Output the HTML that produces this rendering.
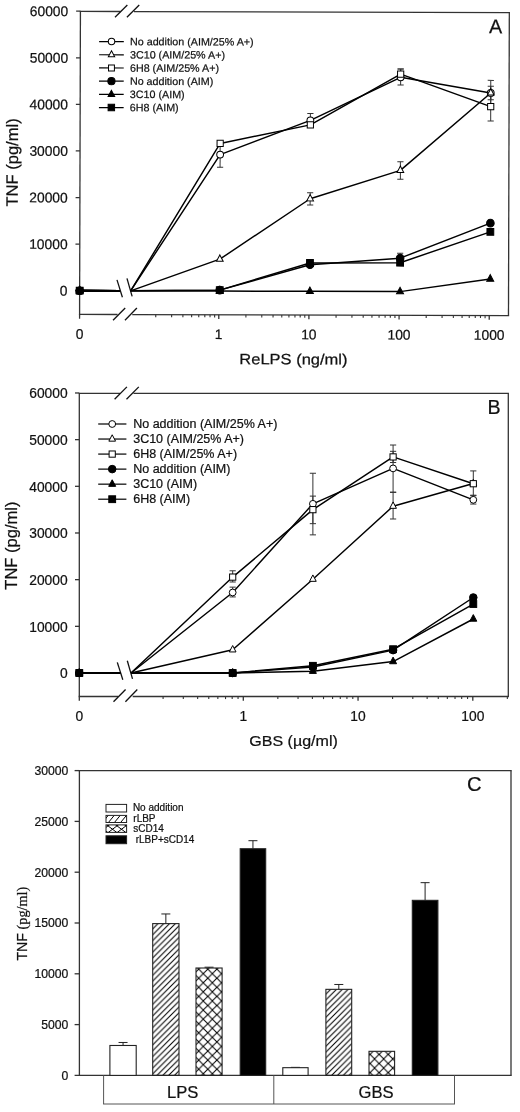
<!DOCTYPE html>
<html><head><meta charset="utf-8"><style>
html,body{margin:0;padding:0;background:#fff;}
body{width:520px;height:1112px;overflow:hidden;}
svg{display:block;filter:grayscale(1);}
text{fill:#111;stroke:#111;stroke-width:0.22px;}
</style></head><body>
<svg width="520" height="1112" viewBox="0 0 520 1112">
<defs><pattern id="hatchA" patternUnits="userSpaceOnUse" x="2.8" y="0" width="5.8" height="5.8"><path d="M-1,1 L1,-1 M0,5.8 L5.8,0 M4.8,6.8 L6.8,4.8" stroke="#000" stroke-width="1.05"/></pattern><pattern id="hatchB" patternUnits="userSpaceOnUse" x="3.4" y="0" width="5.8" height="5.8"><path d="M-1,1 L1,-1 M0,5.8 L5.8,0 M4.8,6.8 L6.8,4.8" stroke="#000" stroke-width="1.05"/></pattern><pattern id="crossA" patternUnits="userSpaceOnUse" x="198.7" y="969.1" width="9.1" height="9.1"><path d="M0,0 L9.1,9.1 M9.1,0 L0,9.1" stroke="#000" stroke-width="1.05"/></pattern><pattern id="crossB" patternUnits="userSpaceOnUse" x="370.0" y="1054.4" width="9.1" height="9.1"><path d="M0,0 L9.1,9.1 M9.1,0 L0,9.1" stroke="#000" stroke-width="1.05"/></pattern></defs>
<rect x="0" y="0" width="520" height="1112" fill="#fff"/>
<g transform="rotate(0.16 294.45 163.5)">
<line x1="79.35" y1="12" x2="120" y2="12" stroke="#333" stroke-width="1.3"/>
<line x1="133.5" y1="12" x2="509.55" y2="12" stroke="#333" stroke-width="1.3"/>
<line x1="80" y1="12" x2="80" y2="315" stroke="#333" stroke-width="1.3"/>
<line x1="508.9" y1="12" x2="508.9" y2="315" stroke="#333" stroke-width="1.3"/>
<line x1="79.35" y1="315" x2="118" y2="315" stroke="#333" stroke-width="1.3"/>
<line x1="132.7" y1="315" x2="509.55" y2="315" stroke="#333" stroke-width="1.3"/>
<line x1="114.6" y1="17.7" x2="126.9" y2="5.4" stroke="#111" stroke-width="1.3"/>
<line x1="126.5" y1="17.7" x2="138.8" y2="5.4" stroke="#111" stroke-width="1.3"/>
<line x1="113.5" y1="320.8" x2="125.6" y2="308.5" stroke="#111" stroke-width="1.3"/>
<line x1="125.4" y1="320.8" x2="137.3" y2="308.5" stroke="#111" stroke-width="1.3"/>
<line x1="75.7" y1="291.3" x2="80" y2="291.3" stroke="#333" stroke-width="1.3"/>
<text x="67.8" y="296.2" font-size="13.8" text-anchor="end" font-family='"Liberation Sans", sans-serif' >0</text>
<line x1="75.7" y1="244.72" x2="80" y2="244.72" stroke="#333" stroke-width="1.3"/>
<text x="67.8" y="249.62" font-size="13.8" text-anchor="end" font-family='"Liberation Sans", sans-serif' >10000</text>
<line x1="75.7" y1="198.14" x2="80" y2="198.14" stroke="#333" stroke-width="1.3"/>
<text x="67.8" y="203.04" font-size="13.8" text-anchor="end" font-family='"Liberation Sans", sans-serif' >20000</text>
<line x1="75.7" y1="151.56" x2="80" y2="151.56" stroke="#333" stroke-width="1.3"/>
<text x="67.8" y="156.46" font-size="13.8" text-anchor="end" font-family='"Liberation Sans", sans-serif' >30000</text>
<line x1="75.7" y1="104.98" x2="80" y2="104.98" stroke="#333" stroke-width="1.3"/>
<text x="67.8" y="109.88" font-size="13.8" text-anchor="end" font-family='"Liberation Sans", sans-serif' >40000</text>
<line x1="75.7" y1="58.4" x2="80" y2="58.4" stroke="#333" stroke-width="1.3"/>
<text x="67.8" y="63.3" font-size="13.8" text-anchor="end" font-family='"Liberation Sans", sans-serif' >50000</text>
<line x1="75.7" y1="11.82" x2="80" y2="11.82" stroke="#333" stroke-width="1.3"/>
<text x="67.8" y="16.72" font-size="13.8" text-anchor="end" font-family='"Liberation Sans", sans-serif' >60000</text>
<line x1="80" y1="315" x2="80" y2="319.3" stroke="#333" stroke-width="1.3"/>
<text x="80" y="339.3" font-size="13.8" text-anchor="middle" font-family='"Liberation Sans", sans-serif' >0</text>
<line x1="156.19" y1="315" x2="156.19" y2="317.6" stroke="#333" stroke-width="1.1"/>
<line x1="172.06" y1="315" x2="172.06" y2="317.6" stroke="#333" stroke-width="1.1"/>
<line x1="183.33" y1="315" x2="183.33" y2="317.6" stroke="#333" stroke-width="1.1"/>
<line x1="192.06" y1="315" x2="192.06" y2="317.6" stroke="#333" stroke-width="1.1"/>
<line x1="199.2" y1="315" x2="199.2" y2="317.6" stroke="#333" stroke-width="1.1"/>
<line x1="205.24" y1="315" x2="205.24" y2="317.6" stroke="#333" stroke-width="1.1"/>
<line x1="210.46" y1="315" x2="210.46" y2="317.6" stroke="#333" stroke-width="1.1"/>
<line x1="215.07" y1="315" x2="215.07" y2="317.6" stroke="#333" stroke-width="1.1"/>
<line x1="219.2" y1="315" x2="219.2" y2="319.3" stroke="#333" stroke-width="1.3"/>
<text x="219.2" y="339.3" font-size="13.8" text-anchor="middle" font-family='"Liberation Sans", sans-serif' >1</text>
<line x1="246.34" y1="315" x2="246.34" y2="317.6" stroke="#333" stroke-width="1.1"/>
<line x1="262.21" y1="315" x2="262.21" y2="317.6" stroke="#333" stroke-width="1.1"/>
<line x1="273.48" y1="315" x2="273.48" y2="317.6" stroke="#333" stroke-width="1.1"/>
<line x1="282.21" y1="315" x2="282.21" y2="317.6" stroke="#333" stroke-width="1.1"/>
<line x1="289.35" y1="315" x2="289.35" y2="317.6" stroke="#333" stroke-width="1.1"/>
<line x1="295.39" y1="315" x2="295.39" y2="317.6" stroke="#333" stroke-width="1.1"/>
<line x1="300.61" y1="315" x2="300.61" y2="317.6" stroke="#333" stroke-width="1.1"/>
<line x1="305.22" y1="315" x2="305.22" y2="317.6" stroke="#333" stroke-width="1.1"/>
<line x1="309.35" y1="315" x2="309.35" y2="319.3" stroke="#333" stroke-width="1.3"/>
<text x="309.35" y="339.3" font-size="13.8" text-anchor="middle" font-family='"Liberation Sans", sans-serif' >10</text>
<line x1="336.49" y1="315" x2="336.49" y2="317.6" stroke="#333" stroke-width="1.1"/>
<line x1="352.36" y1="315" x2="352.36" y2="317.6" stroke="#333" stroke-width="1.1"/>
<line x1="363.63" y1="315" x2="363.63" y2="317.6" stroke="#333" stroke-width="1.1"/>
<line x1="372.36" y1="315" x2="372.36" y2="317.6" stroke="#333" stroke-width="1.1"/>
<line x1="379.5" y1="315" x2="379.5" y2="317.6" stroke="#333" stroke-width="1.1"/>
<line x1="385.54" y1="315" x2="385.54" y2="317.6" stroke="#333" stroke-width="1.1"/>
<line x1="390.76" y1="315" x2="390.76" y2="317.6" stroke="#333" stroke-width="1.1"/>
<line x1="395.37" y1="315" x2="395.37" y2="317.6" stroke="#333" stroke-width="1.1"/>
<line x1="399.5" y1="315" x2="399.5" y2="319.3" stroke="#333" stroke-width="1.3"/>
<text x="399.5" y="339.3" font-size="13.8" text-anchor="middle" font-family='"Liberation Sans", sans-serif' >100</text>
<line x1="426.64" y1="315" x2="426.64" y2="317.6" stroke="#333" stroke-width="1.1"/>
<line x1="442.51" y1="315" x2="442.51" y2="317.6" stroke="#333" stroke-width="1.1"/>
<line x1="453.78" y1="315" x2="453.78" y2="317.6" stroke="#333" stroke-width="1.1"/>
<line x1="462.51" y1="315" x2="462.51" y2="317.6" stroke="#333" stroke-width="1.1"/>
<line x1="469.65" y1="315" x2="469.65" y2="317.6" stroke="#333" stroke-width="1.1"/>
<line x1="475.69" y1="315" x2="475.69" y2="317.6" stroke="#333" stroke-width="1.1"/>
<line x1="480.91" y1="315" x2="480.91" y2="317.6" stroke="#333" stroke-width="1.1"/>
<line x1="485.52" y1="315" x2="485.52" y2="317.6" stroke="#333" stroke-width="1.1"/>
<line x1="489.65" y1="315" x2="489.65" y2="319.3" stroke="#333" stroke-width="1.3"/>
<text x="489.65" y="339.3" font-size="13.8" text-anchor="middle" font-family='"Liberation Sans", sans-serif' >1000</text>
<text transform="translate(239.9,364.4) scale(1.1,1)" font-size="15.0" text-anchor="start" font-family='"Liberation Sans", sans-serif' >ReLPS (ng/ml)</text>
<text transform="translate(17.9,163.2) rotate(-90)" font-size="16.55" text-anchor="middle" font-family='"Liberation Sans", sans-serif'>TNF (pg/ml)</text>
<text x="488.6" y="32.6" font-size="19.8" text-anchor="start" font-family='"Liberation Sans", sans-serif' >A</text>
<line x1="117.3" y1="280.4" x2="122.8" y2="297.7" stroke="#111" stroke-width="1.3"/>
<line x1="127.3" y1="278.8" x2="132.5" y2="296.9" stroke="#111" stroke-width="1.3"/>
<line x1="80" y1="291.3" x2="120.3" y2="291.3" stroke="#000" stroke-width="1.7"/>
<path d="M131,291.3 L220.1,154.82 L310.25,120.4 L400.4,77.03 L490.55,92.4" fill="none" stroke="#000" stroke-width="1.45" stroke-linejoin="round"/>
<line x1="80" y1="291.3" x2="120.3" y2="291.3" stroke="#000" stroke-width="1.7"/>
<path d="M131,291.3 L220.1,259.39 L310.25,198.7 L400.4,170.1 L490.55,92.4" fill="none" stroke="#000" stroke-width="1.45" stroke-linejoin="round"/>
<line x1="80" y1="291.3" x2="120.3" y2="291.3" stroke="#000" stroke-width="1.7"/>
<path d="M131,291.3 L220.1,143.64 L310.25,124.82 L400.4,73.82 L490.55,106.14" fill="none" stroke="#000" stroke-width="1.45" stroke-linejoin="round"/>
<line x1="80" y1="291.3" x2="120.3" y2="291.3" stroke="#000" stroke-width="1.7"/>
<path d="M131,291.3 L220.1,290.37 L310.25,264.66 L400.4,257.86 L490.55,222.59" fill="none" stroke="#000" stroke-width="1.45" stroke-linejoin="round"/>
<line x1="80" y1="291.3" x2="120.3" y2="291.3" stroke="#000" stroke-width="1.7"/>
<path d="M131,291.3 L220.1,291.3 L310.25,291.3 L400.4,291.3 L490.55,278.4" fill="none" stroke="#000" stroke-width="1.45" stroke-linejoin="round"/>
<line x1="80" y1="291.3" x2="120.3" y2="291.3" stroke="#000" stroke-width="1.7"/>
<path d="M131,291.3 L220.1,290.37 L310.25,262.93 L400.4,262.42 L490.55,231.3" fill="none" stroke="#000" stroke-width="1.45" stroke-linejoin="round"/>
<line x1="220.1" y1="142.24" x2="220.1" y2="167.4" stroke="#333" stroke-width="1.0"/>
<line x1="217" y1="142.24" x2="223.2" y2="142.24" stroke="#333" stroke-width="1.0"/>
<line x1="217" y1="167.4" x2="223.2" y2="167.4" stroke="#333" stroke-width="1.0"/>
<line x1="310.25" y1="113.36" x2="310.25" y2="127.34" stroke="#333" stroke-width="1.0"/>
<line x1="307.15" y1="113.36" x2="313.35" y2="113.36" stroke="#333" stroke-width="1.0"/>
<line x1="307.15" y1="127.34" x2="313.35" y2="127.34" stroke="#333" stroke-width="1.0"/>
<line x1="400.4" y1="68.65" x2="400.4" y2="84.72" stroke="#333" stroke-width="1.0"/>
<line x1="397.3" y1="68.65" x2="403.5" y2="68.65" stroke="#333" stroke-width="1.0"/>
<line x1="397.3" y1="84.72" x2="403.5" y2="84.72" stroke="#333" stroke-width="1.0"/>
<line x1="490.55" y1="79.83" x2="490.55" y2="104.98" stroke="#333" stroke-width="1.0"/>
<line x1="487.45" y1="79.83" x2="493.65" y2="79.83" stroke="#333" stroke-width="1.0"/>
<line x1="487.45" y1="104.98" x2="493.65" y2="104.98" stroke="#333" stroke-width="1.0"/>
<line x1="310.25" y1="192.6" x2="310.25" y2="204.89" stroke="#333" stroke-width="1.0"/>
<line x1="307.15" y1="192.6" x2="313.35" y2="192.6" stroke="#333" stroke-width="1.0"/>
<line x1="307.15" y1="204.89" x2="313.35" y2="204.89" stroke="#333" stroke-width="1.0"/>
<line x1="400.4" y1="161.34" x2="400.4" y2="179.04" stroke="#333" stroke-width="1.0"/>
<line x1="397.3" y1="161.34" x2="403.5" y2="161.34" stroke="#333" stroke-width="1.0"/>
<line x1="397.3" y1="179.04" x2="403.5" y2="179.04" stroke="#333" stroke-width="1.0"/>
<line x1="490.55" y1="85.7" x2="490.55" y2="99.11" stroke="#333" stroke-width="1.0"/>
<line x1="487.45" y1="85.7" x2="493.65" y2="85.7" stroke="#333" stroke-width="1.0"/>
<line x1="487.45" y1="99.11" x2="493.65" y2="99.11" stroke="#333" stroke-width="1.0"/>
<line x1="400.4" y1="68.65" x2="400.4" y2="78.9" stroke="#333" stroke-width="1.0"/>
<line x1="397.3" y1="68.65" x2="403.5" y2="68.65" stroke="#333" stroke-width="1.0"/>
<line x1="397.3" y1="78.9" x2="403.5" y2="78.9" stroke="#333" stroke-width="1.0"/>
<line x1="490.55" y1="91.94" x2="490.55" y2="120.35" stroke="#333" stroke-width="1.0"/>
<line x1="487.45" y1="91.94" x2="493.65" y2="91.94" stroke="#333" stroke-width="1.0"/>
<line x1="487.45" y1="120.35" x2="493.65" y2="120.35" stroke="#333" stroke-width="1.0"/>
<line x1="400.4" y1="252.87" x2="400.4" y2="262.89" stroke="#333" stroke-width="1.0"/>
<line x1="397.3" y1="252.87" x2="403.5" y2="252.87" stroke="#333" stroke-width="1.0"/>
<line x1="397.3" y1="262.89" x2="403.5" y2="262.89" stroke="#333" stroke-width="1.0"/>
<circle cx="80" cy="291.3" r="3.4" fill="#fff" stroke="#000" stroke-width="1.0"/>
<circle cx="220.1" cy="154.82" r="3.4" fill="#fff" stroke="#000" stroke-width="1.0"/>
<circle cx="310.25" cy="120.4" r="3.4" fill="#fff" stroke="#000" stroke-width="1.0"/>
<circle cx="400.4" cy="77.03" r="3.4" fill="#fff" stroke="#000" stroke-width="1.0"/>
<circle cx="490.55" cy="92.4" r="3.4" fill="#fff" stroke="#000" stroke-width="1.0"/>
<polygon points="76.65,293.43 83.35,293.43 80,287.03" fill="#fff" stroke="#000" stroke-width="1.0" stroke-linejoin="miter"/>
<polygon points="216.75,261.53 223.45,261.53 220.1,255.13" fill="#fff" stroke="#000" stroke-width="1.0" stroke-linejoin="miter"/>
<polygon points="306.9,200.83 313.6,200.83 310.25,194.43" fill="#fff" stroke="#000" stroke-width="1.0" stroke-linejoin="miter"/>
<polygon points="397.05,172.23 403.75,172.23 400.4,165.83" fill="#fff" stroke="#000" stroke-width="1.0" stroke-linejoin="miter"/>
<polygon points="487.2,94.54 493.9,94.54 490.55,88.14" fill="#fff" stroke="#000" stroke-width="1.0" stroke-linejoin="miter"/>
<rect x="76.9" y="288.2" width="6.2" height="6.2" fill="#fff" stroke="#000" stroke-width="1.0"/>
<rect x="217" y="140.54" width="6.2" height="6.2" fill="#fff" stroke="#000" stroke-width="1.0"/>
<rect x="307.15" y="121.72" width="6.2" height="6.2" fill="#fff" stroke="#000" stroke-width="1.0"/>
<rect x="397.3" y="70.72" width="6.2" height="6.2" fill="#fff" stroke="#000" stroke-width="1.0"/>
<rect x="487.45" y="103.04" width="6.2" height="6.2" fill="#fff" stroke="#000" stroke-width="1.0"/>
<circle cx="80" cy="291.3" r="3.8" fill="#000" stroke="#000" stroke-width="1.0"/>
<circle cx="220.1" cy="290.37" r="3.8" fill="#000" stroke="#000" stroke-width="1.0"/>
<circle cx="310.25" cy="264.66" r="3.8" fill="#000" stroke="#000" stroke-width="1.0"/>
<circle cx="400.4" cy="257.86" r="3.8" fill="#000" stroke="#000" stroke-width="1.0"/>
<circle cx="490.55" cy="222.59" r="3.8" fill="#000" stroke="#000" stroke-width="1.0"/>
<polygon points="76.5,293.5 83.5,293.5 80,286.9" fill="#000" stroke="#000" stroke-width="1.0" stroke-linejoin="miter"/>
<polygon points="216.6,293.5 223.6,293.5 220.1,286.9" fill="#000" stroke="#000" stroke-width="1.0" stroke-linejoin="miter"/>
<polygon points="306.75,293.5 313.75,293.5 310.25,286.9" fill="#000" stroke="#000" stroke-width="1.0" stroke-linejoin="miter"/>
<polygon points="396.9,293.5 403.9,293.5 400.4,286.9" fill="#000" stroke="#000" stroke-width="1.0" stroke-linejoin="miter"/>
<polygon points="487.05,280.6 494.05,280.6 490.55,274" fill="#000" stroke="#000" stroke-width="1.0" stroke-linejoin="miter"/>
<rect x="76.6" y="287.9" width="6.8" height="6.8" fill="#000" stroke="#000" stroke-width="1.0"/>
<rect x="216.7" y="286.97" width="6.8" height="6.8" fill="#000" stroke="#000" stroke-width="1.0"/>
<rect x="306.85" y="259.53" width="6.8" height="6.8" fill="#000" stroke="#000" stroke-width="1.0"/>
<rect x="397" y="259.02" width="6.8" height="6.8" fill="#000" stroke="#000" stroke-width="1.0"/>
<rect x="487.15" y="227.9" width="6.8" height="6.8" fill="#000" stroke="#000" stroke-width="1.0"/>
<line x1="98.8" y1="42.1" x2="123.5" y2="42.1" stroke="#000" stroke-width="1.2"/>
<circle cx="111.2" cy="42.1" r="3.23" fill="#fff" stroke="#000" stroke-width="1.0"/>
<text x="129.7" y="45.7" font-size="10.72" text-anchor="start" font-family='"Liberation Sans", sans-serif' >No addition (AIM/25% A+)</text>
<line x1="98.8" y1="55.3" x2="123.5" y2="55.3" stroke="#000" stroke-width="1.2"/>
<polygon points="108.02,57.33 114.38,57.33 111.2,51.25" fill="#fff" stroke="#000" stroke-width="1.0" stroke-linejoin="miter"/>
<text x="129.7" y="58.9" font-size="10.72" text-anchor="start" font-family='"Liberation Sans", sans-serif' >3C10 (AIM/25% A+)</text>
<line x1="98.8" y1="68.5" x2="123.5" y2="68.5" stroke="#000" stroke-width="1.2"/>
<rect x="108.26" y="65.56" width="5.89" height="5.89" fill="#fff" stroke="#000" stroke-width="1.0"/>
<text x="129.7" y="72.1" font-size="10.72" text-anchor="start" font-family='"Liberation Sans", sans-serif' >6H8 (AIM/25% A+)</text>
<line x1="98.8" y1="81.7" x2="123.5" y2="81.7" stroke="#000" stroke-width="1.2"/>
<circle cx="111.2" cy="81.7" r="3.61" fill="#000" stroke="#000" stroke-width="1.0"/>
<text x="129.7" y="85.3" font-size="10.72" text-anchor="start" font-family='"Liberation Sans", sans-serif' >No addition (AIM)</text>
<line x1="98.8" y1="94.9" x2="123.5" y2="94.9" stroke="#000" stroke-width="1.2"/>
<polygon points="107.88,96.99 114.53,96.99 111.2,90.72" fill="#000" stroke="#000" stroke-width="1.0" stroke-linejoin="miter"/>
<text x="129.7" y="98.5" font-size="10.72" text-anchor="start" font-family='"Liberation Sans", sans-serif' >3C10 (AIM)</text>
<line x1="98.8" y1="108.1" x2="123.5" y2="108.1" stroke="#000" stroke-width="1.2"/>
<rect x="107.97" y="104.87" width="6.46" height="6.46" fill="#000" stroke="#000" stroke-width="1.0"/>
<text x="129.7" y="111.7" font-size="10.72" text-anchor="start" font-family='"Liberation Sans", sans-serif' >6H8 (AIM)</text>
</g>
<g>
<line x1="78.65" y1="393.4" x2="120" y2="393.4" stroke="#333" stroke-width="1.3"/>
<line x1="133.5" y1="393.4" x2="508.95" y2="393.4" stroke="#333" stroke-width="1.3"/>
<line x1="79.3" y1="393.4" x2="79.3" y2="696.5" stroke="#333" stroke-width="1.3"/>
<line x1="508.3" y1="393.4" x2="508.3" y2="696.5" stroke="#333" stroke-width="1.3"/>
<line x1="78.65" y1="696.5" x2="118" y2="696.5" stroke="#333" stroke-width="1.3"/>
<line x1="132.7" y1="696.5" x2="508.95" y2="696.5" stroke="#333" stroke-width="1.3"/>
<line x1="114.6" y1="399.2" x2="126.9" y2="386.9" stroke="#111" stroke-width="1.3"/>
<line x1="126.5" y1="399.2" x2="138.8" y2="386.9" stroke="#111" stroke-width="1.3"/>
<line x1="113.5" y1="701.8" x2="125.6" y2="689.5" stroke="#111" stroke-width="1.3"/>
<line x1="125.4" y1="701.8" x2="137.3" y2="689.5" stroke="#111" stroke-width="1.3"/>
<line x1="75" y1="673" x2="79.3" y2="673" stroke="#333" stroke-width="1.3"/>
<text x="67.6" y="678.4" font-size="13.8" text-anchor="end" font-family='"Liberation Sans", sans-serif' >0</text>
<line x1="75" y1="626.33" x2="79.3" y2="626.33" stroke="#333" stroke-width="1.3"/>
<text x="67.6" y="631.73" font-size="13.8" text-anchor="end" font-family='"Liberation Sans", sans-serif' >10000</text>
<line x1="75" y1="579.66" x2="79.3" y2="579.66" stroke="#333" stroke-width="1.3"/>
<text x="67.6" y="585.06" font-size="13.8" text-anchor="end" font-family='"Liberation Sans", sans-serif' >20000</text>
<line x1="75" y1="532.99" x2="79.3" y2="532.99" stroke="#333" stroke-width="1.3"/>
<text x="67.6" y="538.39" font-size="13.8" text-anchor="end" font-family='"Liberation Sans", sans-serif' >30000</text>
<line x1="75" y1="486.32" x2="79.3" y2="486.32" stroke="#333" stroke-width="1.3"/>
<text x="67.6" y="491.72" font-size="13.8" text-anchor="end" font-family='"Liberation Sans", sans-serif' >40000</text>
<line x1="75" y1="439.65" x2="79.3" y2="439.65" stroke="#333" stroke-width="1.3"/>
<text x="67.6" y="445.05" font-size="13.8" text-anchor="end" font-family='"Liberation Sans", sans-serif' >50000</text>
<line x1="75" y1="392.98" x2="79.3" y2="392.98" stroke="#333" stroke-width="1.3"/>
<text x="67.6" y="398.38" font-size="13.8" text-anchor="end" font-family='"Liberation Sans", sans-serif' >60000</text>
<line x1="79.3" y1="696.5" x2="79.3" y2="700.8" stroke="#333" stroke-width="1.3"/>
<text x="79.3" y="720.8" font-size="13.8" text-anchor="middle" font-family='"Liberation Sans", sans-serif' >0</text>
<line x1="163.09" y1="696.5" x2="163.09" y2="699.1" stroke="#333" stroke-width="1.1"/>
<line x1="183.3" y1="696.5" x2="183.3" y2="699.1" stroke="#333" stroke-width="1.1"/>
<line x1="197.64" y1="696.5" x2="197.64" y2="699.1" stroke="#333" stroke-width="1.1"/>
<line x1="208.76" y1="696.5" x2="208.76" y2="699.1" stroke="#333" stroke-width="1.1"/>
<line x1="217.84" y1="696.5" x2="217.84" y2="699.1" stroke="#333" stroke-width="1.1"/>
<line x1="225.53" y1="696.5" x2="225.53" y2="699.1" stroke="#333" stroke-width="1.1"/>
<line x1="232.18" y1="696.5" x2="232.18" y2="699.1" stroke="#333" stroke-width="1.1"/>
<line x1="238.05" y1="696.5" x2="238.05" y2="699.1" stroke="#333" stroke-width="1.1"/>
<line x1="243.3" y1="696.5" x2="243.3" y2="700.8" stroke="#333" stroke-width="1.3"/>
<text x="243.3" y="720.8" font-size="13.8" text-anchor="middle" font-family='"Liberation Sans", sans-serif' >1</text>
<line x1="277.84" y1="696.5" x2="277.84" y2="699.1" stroke="#333" stroke-width="1.1"/>
<line x1="298.05" y1="696.5" x2="298.05" y2="699.1" stroke="#333" stroke-width="1.1"/>
<line x1="312.39" y1="696.5" x2="312.39" y2="699.1" stroke="#333" stroke-width="1.1"/>
<line x1="323.51" y1="696.5" x2="323.51" y2="699.1" stroke="#333" stroke-width="1.1"/>
<line x1="332.59" y1="696.5" x2="332.59" y2="699.1" stroke="#333" stroke-width="1.1"/>
<line x1="340.28" y1="696.5" x2="340.28" y2="699.1" stroke="#333" stroke-width="1.1"/>
<line x1="346.93" y1="696.5" x2="346.93" y2="699.1" stroke="#333" stroke-width="1.1"/>
<line x1="352.8" y1="696.5" x2="352.8" y2="699.1" stroke="#333" stroke-width="1.1"/>
<line x1="358.05" y1="696.5" x2="358.05" y2="700.8" stroke="#333" stroke-width="1.3"/>
<text x="358.05" y="720.8" font-size="13.8" text-anchor="middle" font-family='"Liberation Sans", sans-serif' >10</text>
<line x1="392.59" y1="696.5" x2="392.59" y2="699.1" stroke="#333" stroke-width="1.1"/>
<line x1="412.8" y1="696.5" x2="412.8" y2="699.1" stroke="#333" stroke-width="1.1"/>
<line x1="427.14" y1="696.5" x2="427.14" y2="699.1" stroke="#333" stroke-width="1.1"/>
<line x1="438.26" y1="696.5" x2="438.26" y2="699.1" stroke="#333" stroke-width="1.1"/>
<line x1="447.34" y1="696.5" x2="447.34" y2="699.1" stroke="#333" stroke-width="1.1"/>
<line x1="455.03" y1="696.5" x2="455.03" y2="699.1" stroke="#333" stroke-width="1.1"/>
<line x1="461.68" y1="696.5" x2="461.68" y2="699.1" stroke="#333" stroke-width="1.1"/>
<line x1="467.55" y1="696.5" x2="467.55" y2="699.1" stroke="#333" stroke-width="1.1"/>
<line x1="472.8" y1="696.5" x2="472.8" y2="700.8" stroke="#333" stroke-width="1.3"/>
<text x="472.8" y="720.8" font-size="13.8" text-anchor="middle" font-family='"Liberation Sans", sans-serif' >100</text>
<line x1="507.34" y1="696.5" x2="507.34" y2="699.1" stroke="#333" stroke-width="1.1"/>
<text transform="translate(249.3,745.6) scale(1.07,1)" font-size="15.0" text-anchor="start" font-family='"Liberation Sans", sans-serif' >GBS (µg/ml)</text>
<text transform="translate(17.4,545.6) rotate(-90)" font-size="16.55" text-anchor="middle" font-family='"Liberation Sans", sans-serif'>TNF (pg/ml)</text>
<text x="487.6" y="414.4" font-size="19.6" text-anchor="start" font-family='"Liberation Sans", sans-serif' >B</text>
<line x1="117.3" y1="662.4" x2="122.8" y2="679.7" stroke="#111" stroke-width="1.3"/>
<line x1="127.3" y1="660.8" x2="132.5" y2="678.9" stroke="#111" stroke-width="1.3"/>
<line x1="79.3" y1="673" x2="120.3" y2="673" stroke="#000" stroke-width="1.7"/>
<path d="M131,673 L232.68,592.49 L312.89,503.82 L393.09,468.4 L473.3,499.81" fill="none" stroke="#000" stroke-width="1.45" stroke-linejoin="round"/>
<line x1="79.3" y1="673" x2="120.3" y2="673" stroke="#000" stroke-width="1.7"/>
<path d="M131,673 L232.68,649.81 L312.89,579.19 L393.09,506.2 L473.3,483.52" fill="none" stroke="#000" stroke-width="1.45" stroke-linejoin="round"/>
<line x1="79.3" y1="673" x2="120.3" y2="673" stroke="#000" stroke-width="1.7"/>
<path d="M131,673 L232.68,577.09 L312.89,509.65 L393.09,456.92 L473.3,483.71" fill="none" stroke="#000" stroke-width="1.45" stroke-linejoin="round"/>
<line x1="79.3" y1="673" x2="120.3" y2="673" stroke="#000" stroke-width="1.7"/>
<path d="M131,673 L232.68,673 L312.89,666.93 L393.09,650.13 L473.3,597.49" fill="none" stroke="#000" stroke-width="1.45" stroke-linejoin="round"/>
<line x1="79.3" y1="673" x2="120.3" y2="673" stroke="#000" stroke-width="1.7"/>
<path d="M131,673 L232.68,673 L312.89,671.18 L393.09,661.52 L473.3,619" fill="none" stroke="#000" stroke-width="1.45" stroke-linejoin="round"/>
<line x1="79.3" y1="673" x2="120.3" y2="673" stroke="#000" stroke-width="1.7"/>
<path d="M131,673 L232.68,673 L312.89,665.81 L393.09,649.2 L473.3,604.02" fill="none" stroke="#000" stroke-width="1.45" stroke-linejoin="round"/>
<line x1="232.68" y1="587.13" x2="232.68" y2="596.93" stroke="#333" stroke-width="1.0"/>
<line x1="229.58" y1="587.13" x2="235.78" y2="587.13" stroke="#333" stroke-width="1.0"/>
<line x1="229.58" y1="596.93" x2="235.78" y2="596.93" stroke="#333" stroke-width="1.0"/>
<line x1="312.89" y1="473.25" x2="312.89" y2="534.86" stroke="#333" stroke-width="1.0"/>
<line x1="309.79" y1="473.25" x2="315.99" y2="473.25" stroke="#333" stroke-width="1.0"/>
<line x1="309.79" y1="534.86" x2="315.99" y2="534.86" stroke="#333" stroke-width="1.0"/>
<line x1="393.09" y1="445.02" x2="393.09" y2="492.15" stroke="#333" stroke-width="1.0"/>
<line x1="389.99" y1="445.02" x2="396.19" y2="445.02" stroke="#333" stroke-width="1.0"/>
<line x1="389.99" y1="492.15" x2="396.19" y2="492.15" stroke="#333" stroke-width="1.0"/>
<line x1="473.3" y1="495.19" x2="473.3" y2="504.05" stroke="#333" stroke-width="1.0"/>
<line x1="470.2" y1="495.19" x2="476.4" y2="495.19" stroke="#333" stroke-width="1.0"/>
<line x1="470.2" y1="504.05" x2="476.4" y2="504.05" stroke="#333" stroke-width="1.0"/>
<line x1="393.09" y1="492.39" x2="393.09" y2="518.99" stroke="#333" stroke-width="1.0"/>
<line x1="389.99" y1="492.39" x2="396.19" y2="492.39" stroke="#333" stroke-width="1.0"/>
<line x1="389.99" y1="518.99" x2="396.19" y2="518.99" stroke="#333" stroke-width="1.0"/>
<line x1="232.68" y1="570.79" x2="232.68" y2="581.99" stroke="#333" stroke-width="1.0"/>
<line x1="229.58" y1="570.79" x2="235.78" y2="570.79" stroke="#333" stroke-width="1.0"/>
<line x1="229.58" y1="581.99" x2="235.78" y2="581.99" stroke="#333" stroke-width="1.0"/>
<line x1="312.89" y1="496.12" x2="312.89" y2="523.66" stroke="#333" stroke-width="1.0"/>
<line x1="309.79" y1="496.12" x2="315.99" y2="496.12" stroke="#333" stroke-width="1.0"/>
<line x1="309.79" y1="523.66" x2="315.99" y2="523.66" stroke="#333" stroke-width="1.0"/>
<line x1="393.09" y1="451.32" x2="393.09" y2="462.52" stroke="#333" stroke-width="1.0"/>
<line x1="389.99" y1="451.32" x2="396.19" y2="451.32" stroke="#333" stroke-width="1.0"/>
<line x1="389.99" y1="462.52" x2="396.19" y2="462.52" stroke="#333" stroke-width="1.0"/>
<line x1="473.3" y1="470.92" x2="473.3" y2="495.65" stroke="#333" stroke-width="1.0"/>
<line x1="470.2" y1="470.92" x2="476.4" y2="470.92" stroke="#333" stroke-width="1.0"/>
<line x1="470.2" y1="495.65" x2="476.4" y2="495.65" stroke="#333" stroke-width="1.0"/>
<circle cx="79.3" cy="673" r="3.4" fill="#fff" stroke="#000" stroke-width="1.0"/>
<circle cx="232.68" cy="592.49" r="3.4" fill="#fff" stroke="#000" stroke-width="1.0"/>
<circle cx="312.89" cy="503.82" r="3.4" fill="#fff" stroke="#000" stroke-width="1.0"/>
<circle cx="393.09" cy="468.4" r="3.4" fill="#fff" stroke="#000" stroke-width="1.0"/>
<circle cx="473.3" cy="499.81" r="3.4" fill="#fff" stroke="#000" stroke-width="1.0"/>
<polygon points="75.95,675.13 82.65,675.13 79.3,668.73" fill="#fff" stroke="#000" stroke-width="1.0" stroke-linejoin="miter"/>
<polygon points="229.33,651.94 236.03,651.94 232.68,645.54" fill="#fff" stroke="#000" stroke-width="1.0" stroke-linejoin="miter"/>
<polygon points="309.54,581.33 316.24,581.33 312.89,574.93" fill="#fff" stroke="#000" stroke-width="1.0" stroke-linejoin="miter"/>
<polygon points="389.74,508.33 396.44,508.33 393.09,501.93" fill="#fff" stroke="#000" stroke-width="1.0" stroke-linejoin="miter"/>
<polygon points="469.95,485.65 476.65,485.65 473.3,479.25" fill="#fff" stroke="#000" stroke-width="1.0" stroke-linejoin="miter"/>
<rect x="76.2" y="669.9" width="6.2" height="6.2" fill="#fff" stroke="#000" stroke-width="1.0"/>
<rect x="229.58" y="573.99" width="6.2" height="6.2" fill="#fff" stroke="#000" stroke-width="1.0"/>
<rect x="309.79" y="506.55" width="6.2" height="6.2" fill="#fff" stroke="#000" stroke-width="1.0"/>
<rect x="389.99" y="453.82" width="6.2" height="6.2" fill="#fff" stroke="#000" stroke-width="1.0"/>
<rect x="470.2" y="480.61" width="6.2" height="6.2" fill="#fff" stroke="#000" stroke-width="1.0"/>
<circle cx="79.3" cy="673" r="3.8" fill="#000" stroke="#000" stroke-width="1.0"/>
<circle cx="232.68" cy="673" r="3.8" fill="#000" stroke="#000" stroke-width="1.0"/>
<circle cx="312.89" cy="666.93" r="3.8" fill="#000" stroke="#000" stroke-width="1.0"/>
<circle cx="393.09" cy="650.13" r="3.8" fill="#000" stroke="#000" stroke-width="1.0"/>
<circle cx="473.3" cy="597.49" r="3.8" fill="#000" stroke="#000" stroke-width="1.0"/>
<polygon points="75.8,675.2 82.8,675.2 79.3,668.6" fill="#000" stroke="#000" stroke-width="1.0" stroke-linejoin="miter"/>
<polygon points="229.18,675.2 236.18,675.2 232.68,668.6" fill="#000" stroke="#000" stroke-width="1.0" stroke-linejoin="miter"/>
<polygon points="309.39,673.38 316.39,673.38 312.89,666.78" fill="#000" stroke="#000" stroke-width="1.0" stroke-linejoin="miter"/>
<polygon points="389.59,663.72 396.59,663.72 393.09,657.12" fill="#000" stroke="#000" stroke-width="1.0" stroke-linejoin="miter"/>
<polygon points="469.8,621.2 476.8,621.2 473.3,614.6" fill="#000" stroke="#000" stroke-width="1.0" stroke-linejoin="miter"/>
<rect x="75.9" y="669.6" width="6.8" height="6.8" fill="#000" stroke="#000" stroke-width="1.0"/>
<rect x="229.28" y="669.6" width="6.8" height="6.8" fill="#000" stroke="#000" stroke-width="1.0"/>
<rect x="309.49" y="662.41" width="6.8" height="6.8" fill="#000" stroke="#000" stroke-width="1.0"/>
<rect x="389.69" y="645.8" width="6.8" height="6.8" fill="#000" stroke="#000" stroke-width="1.0"/>
<rect x="469.9" y="600.62" width="6.8" height="6.8" fill="#000" stroke="#000" stroke-width="1.0"/>
<line x1="98.2" y1="424" x2="126.4" y2="424" stroke="#000" stroke-width="1.2"/>
<circle cx="112.2" cy="424" r="3.4" fill="#fff" stroke="#000" stroke-width="1.0"/>
<text x="133.2" y="428.2" font-size="12.5" text-anchor="start" font-family='"Liberation Sans", sans-serif' >No addition (AIM/25% A+)</text>
<line x1="98.2" y1="439.04" x2="126.4" y2="439.04" stroke="#000" stroke-width="1.2"/>
<polygon points="108.85,441.17 115.55,441.17 112.2,434.77" fill="#fff" stroke="#000" stroke-width="1.0" stroke-linejoin="miter"/>
<text x="133.2" y="443.24" font-size="12.5" text-anchor="start" font-family='"Liberation Sans", sans-serif' >3C10 (AIM/25% A+)</text>
<line x1="98.2" y1="454.08" x2="126.4" y2="454.08" stroke="#000" stroke-width="1.2"/>
<rect x="109.1" y="450.98" width="6.2" height="6.2" fill="#fff" stroke="#000" stroke-width="1.0"/>
<text x="133.2" y="458.28" font-size="12.5" text-anchor="start" font-family='"Liberation Sans", sans-serif' >6H8 (AIM/25% A+)</text>
<line x1="98.2" y1="469.12" x2="126.4" y2="469.12" stroke="#000" stroke-width="1.2"/>
<circle cx="112.2" cy="469.12" r="3.8" fill="#000" stroke="#000" stroke-width="1.0"/>
<text x="133.2" y="473.32" font-size="12.5" text-anchor="start" font-family='"Liberation Sans", sans-serif' >No addition (AIM)</text>
<line x1="98.2" y1="484.16" x2="126.4" y2="484.16" stroke="#000" stroke-width="1.2"/>
<polygon points="108.7,486.36 115.7,486.36 112.2,479.76" fill="#000" stroke="#000" stroke-width="1.0" stroke-linejoin="miter"/>
<text x="133.2" y="488.36" font-size="12.5" text-anchor="start" font-family='"Liberation Sans", sans-serif' >3C10 (AIM)</text>
<line x1="98.2" y1="499.2" x2="126.4" y2="499.2" stroke="#000" stroke-width="1.2"/>
<rect x="108.8" y="495.8" width="6.8" height="6.8" fill="#000" stroke="#000" stroke-width="1.0"/>
<text x="133.2" y="503.4" font-size="12.5" text-anchor="start" font-family='"Liberation Sans", sans-serif' >6H8 (AIM)</text>
</g>
<line x1="78.75" y1="770.6" x2="511.65" y2="770.6" stroke="#333" stroke-width="1.3"/>
<line x1="79.4" y1="770.6" x2="79.4" y2="1075.4" stroke="#333" stroke-width="1.3"/>
<line x1="511" y1="770.6" x2="511" y2="1075.4" stroke="#333" stroke-width="1.3"/>
<line x1="74.6" y1="1075.4" x2="511.65" y2="1075.4" stroke="#333" stroke-width="1.3"/>
<text x="68.4" y="1079.7" font-size="12.2" text-anchor="end" font-family='"Liberation Sans", sans-serif' >0</text>
<line x1="74.6" y1="1024.6" x2="79.4" y2="1024.6" stroke="#333" stroke-width="1.3"/>
<text x="68.4" y="1028.9" font-size="12.2" text-anchor="end" font-family='"Liberation Sans", sans-serif' >5000</text>
<line x1="74.6" y1="973.8" x2="79.4" y2="973.8" stroke="#333" stroke-width="1.3"/>
<text x="68.4" y="978.1" font-size="12.2" text-anchor="end" font-family='"Liberation Sans", sans-serif' >10000</text>
<line x1="74.6" y1="923" x2="79.4" y2="923" stroke="#333" stroke-width="1.3"/>
<text x="68.4" y="927.3" font-size="12.2" text-anchor="end" font-family='"Liberation Sans", sans-serif' >15000</text>
<line x1="74.6" y1="872.2" x2="79.4" y2="872.2" stroke="#333" stroke-width="1.3"/>
<text x="68.4" y="876.5" font-size="12.2" text-anchor="end" font-family='"Liberation Sans", sans-serif' >20000</text>
<line x1="74.6" y1="821.4" x2="79.4" y2="821.4" stroke="#333" stroke-width="1.3"/>
<text x="68.4" y="825.7" font-size="12.2" text-anchor="end" font-family='"Liberation Sans", sans-serif' >25000</text>
<line x1="74.6" y1="770.6" x2="79.4" y2="770.6" stroke="#333" stroke-width="1.3"/>
<text x="68.4" y="774.9" font-size="12.2" text-anchor="end" font-family='"Liberation Sans", sans-serif' >30000</text>
<line x1="103.6" y1="1075.4" x2="103.6" y2="1104" stroke="#555" stroke-width="1.0"/>
<line x1="454.5" y1="1075.4" x2="454.5" y2="1104" stroke="#555" stroke-width="1.0"/>
<line x1="273.8" y1="1075.4" x2="273.8" y2="1104" stroke="#555" stroke-width="1.0"/>
<line x1="103.1" y1="1104" x2="455" y2="1104" stroke="#555" stroke-width="1.0"/>
<text x="167" y="1097.7" font-size="16.6" text-anchor="start" font-family='"Liberation Sans", sans-serif' >LPS</text>
<text x="358.5" y="1097.7" font-size="16.6" text-anchor="start" font-family='"Liberation Sans", sans-serif' >GBS</text>
<text transform="translate(26.6,923.7) rotate(-90)" font-size="14.2" text-anchor="middle" font-family='"Liberation Sans", sans-serif'>TNF<tspan font-family='"Liberation Serif", serif'> (pg/ml)</tspan></text>
<text x="467" y="790.9" font-size="20.2" text-anchor="start" font-family='"Liberation Sans", sans-serif' >C</text>
<line x1="123.05" y1="1042.48" x2="123.05" y2="1045.48" stroke="#222" stroke-width="1.0"/>
<line x1="118.55" y1="1042.48" x2="127.55" y2="1042.48" stroke="#222" stroke-width="1.0"/>
<rect x="109.9" y="1045.48" width="26.3" height="29.92" fill="#fff" stroke="#222" stroke-width="1.1"/>
<line x1="165.85" y1="913.96" x2="165.85" y2="923.61" stroke="#222" stroke-width="1.0"/>
<line x1="161.35" y1="913.96" x2="170.35" y2="913.96" stroke="#222" stroke-width="1.0"/>
<rect x="152.7" y="923.61" width="26.3" height="151.79" fill="url(#hatchA)" stroke="#222" stroke-width="1.1"/>
<line x1="209.05" y1="967.2" x2="209.05" y2="968.01" stroke="#222" stroke-width="1.0"/>
<line x1="204.55" y1="967.2" x2="213.55" y2="967.2" stroke="#222" stroke-width="1.0"/>
<rect x="196" y="968.01" width="26.1" height="107.39" fill="url(#crossA)" stroke="#222" stroke-width="1.1"/>
<line x1="252.95" y1="840.7" x2="252.95" y2="848.73" stroke="#222" stroke-width="1.0"/>
<line x1="248.45" y1="840.7" x2="257.45" y2="840.7" stroke="#222" stroke-width="1.0"/>
<rect x="240.2" y="848.73" width="25.5" height="226.67" fill="#000" stroke="#222" stroke-width="1.1"/>
<line x1="295.45" y1="1067.37" x2="295.45" y2="1067.68" stroke="#222" stroke-width="1.0"/>
<line x1="290.95" y1="1067.37" x2="299.95" y2="1067.37" stroke="#222" stroke-width="1.0"/>
<rect x="282.8" y="1067.68" width="25.3" height="7.72" fill="#fff" stroke="#222" stroke-width="1.1"/>
<line x1="338.8" y1="984.47" x2="338.8" y2="989.34" stroke="#222" stroke-width="1.0"/>
<line x1="334.3" y1="984.47" x2="343.3" y2="984.47" stroke="#222" stroke-width="1.0"/>
<rect x="325.9" y="989.34" width="25.8" height="86.06" fill="url(#hatchB)" stroke="#222" stroke-width="1.1"/>
<rect x="369" y="1051.32" width="25.6" height="24.08" fill="url(#crossB)" stroke="#222" stroke-width="1.1"/>
<line x1="425.1" y1="882.66" x2="425.1" y2="900.34" stroke="#222" stroke-width="1.0"/>
<line x1="420.6" y1="882.66" x2="429.6" y2="882.66" stroke="#222" stroke-width="1.0"/>
<rect x="412.3" y="900.34" width="25.6" height="175.06" fill="#000" stroke="#222" stroke-width="1.1"/>
<rect x="106.0" y="804.4" width="20.6" height="7.6" fill="#fff" stroke="#222" stroke-width="1"/>
<text x="132.9" y="811" font-size="10.0" text-anchor="start" font-family='"Liberation Sans", sans-serif' >No addition</text>
<clipPath id="clh"><rect x="106.0" y="815.4" width="20.6" height="7.1"/></clipPath>
<g clip-path="url(#clh)">
<line x1="102" y1="823" x2="108.65" y2="814.9" stroke="#000" stroke-width="1.0"/>
<line x1="108" y1="823" x2="114.65" y2="814.9" stroke="#000" stroke-width="1.0"/>
<line x1="114" y1="823" x2="120.65" y2="814.9" stroke="#000" stroke-width="1.0"/>
<line x1="120.2" y1="823" x2="126.85" y2="814.9" stroke="#000" stroke-width="1.0"/>
<line x1="126.2" y1="823" x2="132.85" y2="814.9" stroke="#000" stroke-width="1.0"/>
</g>
<rect x="106.0" y="815.4" width="20.6" height="7.1" fill="none" stroke="#222" stroke-width="1"/>
<text x="133.3" y="821.85" font-size="10.0" text-anchor="start" font-family='"Liberation Sans", sans-serif' >rLBP</text>
<clipPath id="clx"><rect x="106.0" y="824.9" width="20.6" height="7.5"/></clipPath>
<g clip-path="url(#clx)">
<line x1="96.37" y1="823.9" x2="109.03" y2="833.4" stroke="#000" stroke-width="1.0"/>
<line x1="110.63" y1="823.9" x2="97.97" y2="833.4" stroke="#000" stroke-width="1.0"/>
<line x1="105.37" y1="823.9" x2="118.03" y2="833.4" stroke="#000" stroke-width="1.0"/>
<line x1="119.63" y1="823.9" x2="106.97" y2="833.4" stroke="#000" stroke-width="1.0"/>
<line x1="114.37" y1="823.9" x2="127.03" y2="833.4" stroke="#000" stroke-width="1.0"/>
<line x1="128.63" y1="823.9" x2="115.97" y2="833.4" stroke="#000" stroke-width="1.0"/>
<line x1="123.37" y1="823.9" x2="136.03" y2="833.4" stroke="#000" stroke-width="1.0"/>
<line x1="137.63" y1="823.9" x2="124.97" y2="833.4" stroke="#000" stroke-width="1.0"/>
</g>
<rect x="106.0" y="824.9" width="20.6" height="7.5" fill="none" stroke="#222" stroke-width="1"/>
<text x="133.2" y="832.35" font-size="10.0" text-anchor="start" font-family='"Liberation Sans", sans-serif' >sCD14</text>
<rect x="106.0" y="835.8" width="20.6" height="7.9" fill="#000" stroke="#222" stroke-width="1"/>
<text x="135.7" y="843.35" font-size="10.0" text-anchor="start" font-family='"Liberation Sans", sans-serif' >rLBP+sCD14</text>
</svg>
</body></html>
